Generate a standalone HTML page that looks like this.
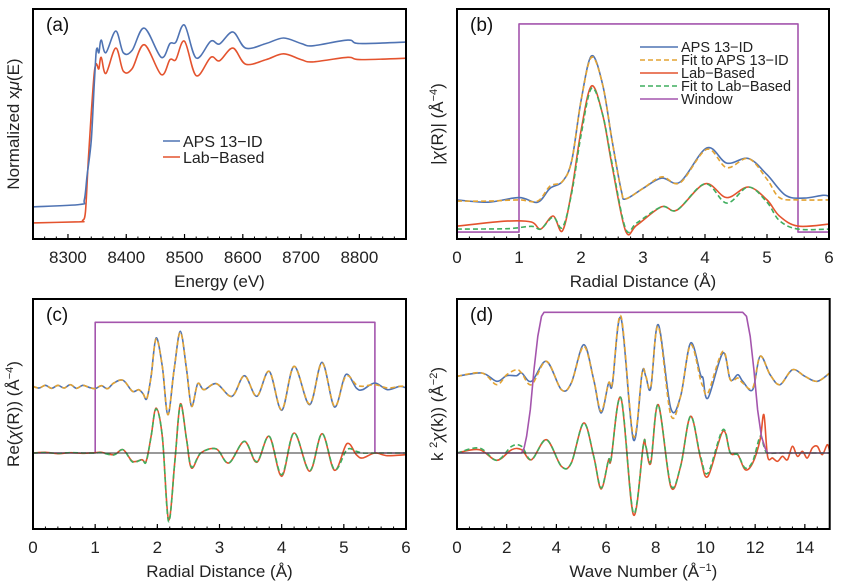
<!DOCTYPE html>
<html><head><meta charset="utf-8"><style>
body{margin:0;background:#fff;}
svg{display:block;font-family:"Liberation Sans",sans-serif;}
</style></head><body>
<svg id="fig" width="856" height="583" viewBox="0 0 856 583"></svg>
<script>
// ---- Panel (a) data ----
const aE_blue=[8240,8320,8328,8333,8340,8345,8348,8350,8353,8357,8365,8382,8395,8410,8431,8460,8475,8485,8500,8520,8545,8560,8583,8605,8640,8670,8700,8720,8780,8800,8880];
const aV_blue=[14,15,17,28,43,67,80,83,81,86.5,81,90.4,81,82,91.7,79,85,85.5,93,78.7,86,84.8,90,83,85,87.4,85,84,86.5,85,85.6];
const aE_red=[8240,8320,8325,8330,8335,8340,8345,8348,8350,8353,8357,8365,8382,8395,8410,8431,8460,8475,8485,8500,8520,8545,8560,8583,8605,8640,8670,8700,8720,8780,8800,8880];
const aV_red=[7,7.5,8,12,35,55,72,76,75.6,74,79,72,83,73,74,84.5,71.5,78,78,86,71,79,77.5,83,76,78,80.5,78,77,79,78,78.6];
// ---- Panel (b) data ----
const bR_aps=[0,0.5,1.0,1.3,1.5,1.7,1.85,2.0,2.17,2.35,2.5,2.65,2.72,3.0,3.3,3.6,4.03,4.35,4.7,5.0,5.3,5.6,5.9,6.0];
const bV_aps=[17,16,18,16,22,25,34,60,79.6,67,43,21,17.4,22,26.5,24.8,39.6,33,35,28,19,17.8,19,18.6];
const bR_apsfit=[0,0.5,1.0,1.3,1.5,1.7,1.85,2.0,2.17,2.35,2.5,2.65,2.72,3.0,3.3,3.6,4.03,4.35,4.7,5.0,5.2,5.5,6.0];
const bV_apsfit=[16.5,16.5,17,16.5,23,25,34,60,79,67,43,21,17.5,22,27,24.5,39,31,35,26,18,17,17];
const bR_lab=[0,0.8,1.2,1.35,1.55,1.7,1.85,2.0,2.17,2.35,2.5,2.72,2.9,3.3,3.55,4.0,4.35,4.7,5.0,5.2,5.5,6.0];
const bV_lab=[5.6,7.8,7.4,4.3,10,3.5,21,47,66.5,54,32,3.5,6,14,12.6,24,18,22.6,17,10,5.6,6.5];
const bR_labfit=[0,0.8,1.2,1.35,1.55,1.7,1.85,2.0,2.17,2.35,2.5,2.72,2.9,3.3,3.55,4.0,4.35,4.7,5.0,5.2,5.5,6.0];
const bV_labfit=[4.3,4.5,5.5,4.3,9.5,5,20,45,65.5,54,33,4.5,7,14,12.6,24,15.6,22.6,16,8,4.3,4.3];
const bR_win=[0,1,1,5.5,5.5,6];
const bV_win=[3,3,93.5,93.5,3,3];
// ---- Panel (c) data ----
const cR_aps=[0,0.1,0.2,0.3,0.4,0.5,0.6,0.7,0.8,0.9,1.0,1.1,1.2,1.3,1.45,1.6,1.7,1.77,1.83,1.9,1.98,2.08,2.17,2.27,2.37,2.47,2.55,2.65,2.75,2.95,3.2,3.4,3.6,3.8,4.0,4.2,4.45,4.65,4.85,5.03,5.2,5.3,5.5,5.7,5.9,6.0];
const cV_aps=[20,19.5,20.3,19.4,20.3,19.5,20.5,19.4,20.3,19.7,19.3,20.2,19.3,21,21.8,18.5,19,17.8,16.3,23,34.5,26,11.5,25,36.5,25,14,20.8,19,20.8,17,23.2,17,24.5,12.8,26,14.5,27.2,13.8,23.5,19.5,19,21,19,20,19.5];
const cV_apsfit=[20,19.5,20.3,19.4,20.3,19.5,20.5,19.4,20.3,19.7,19.3,20.2,19.3,21,21.8,18.5,19,17.8,16.3,23,34.2,26,11.5,25,36.2,25,14,20.8,19,20.8,17,23.2,17,24.5,13,26,14.7,27,14,23,20.5,20,20.5,19.5,20,20];
const cR_lab=[0,0.2,0.4,0.6,0.8,1.0,1.1,1.3,1.45,1.6,1.75,1.82,1.9,1.98,2.08,2.18,2.28,2.37,2.47,2.55,2.7,2.95,3.15,3.4,3.6,3.8,4.0,4.2,4.45,4.65,4.85,5.05,5.2,5.3,5.5,5.7,6.0];
const cV_lab=[0,0.2,-0.2,0.1,-0.1,0.1,0.2,-0.5,1,-2.5,-2,-2.5,5,13.5,5,-20,-3,14.7,4,-4.5,0,1.2,-3,3.5,-2.8,5,-7,6,-5.5,5.8,-5.2,2.8,-0.5,-1.5,0,-0.8,-0.5];
const cV_labfit=[0,0.1,-0.1,0.1,0,0,0.1,-0.6,1,-2.7,-2,-2.7,5,13.2,5,-20.5,-3,14.4,4,-4.2,0,1.2,-3,3.5,-2.6,5,-6.5,6,-5.3,5.8,-5,1,0.5,0,0,0,0];
const cR_win=[0,1,1,5.5,5.5,6];
const cV_win=[0,0,39.2,39.2,0,0];
// ---- Panel (d) data ----
const dK_aps=[0,1,1.6,2,2.4,2.6,3,3.6,4.2,4.6,5.1,5.5,5.8,6.1,6.25,6.6,7.1,7.45,7.6,7.8,8.1,8.6,9.0,9.4,9.8,9.9,10.1,10.7,11.0,11.3,11.5,11.9,12.2,12.6,13,13.5,14,14.5,15];
const dV_aps=[23,24,21.5,23.2,23.2,24,21.5,27.5,19,21,32.5,22,12,21,20.5,40.5,4,24,23,19.5,38.5,13.5,17,33,23.5,22.5,16.5,30,22,23.5,21.5,19,29,23.5,20.5,25,23,21.5,24];
const dV_apsfit=[23,24,20.5,23.5,25,24,20.5,27.5,19,21,32,22,12.5,21,21,41,5,24,23,20,38,11.5,17,32.5,22,20,18,30.5,22,22.5,21,19.5,29,23.5,20.5,25,23,21.5,24];
const dK_lab=[0,0.9,1.6,2.2,2.6,3.0,3.6,4.2,4.6,5.1,5.5,5.8,6.1,6.2,6.6,7.1,7.5,7.6,7.8,8.1,8.6,9.0,9.4,9.8,10.1,10.7,11.0,11.3,11.6,11.9,12.2,12.35,12.5,12.7,12.9,13.1,13.3,13.5,13.7,13.9,14.1,14.3,14.5,14.7,14.9,15];
const dV_lab=[0,1,-2.2,1,1,-2,4,-4,-3,9,-1,-10.8,-2,-2,16.5,-18.5,2.5,2,-3,14.5,-10,-4,11,-1.5,-7,6.5,0,-0.5,-5,-3,4,11.5,-1,-1.5,-2.5,-1,-2,2,-1,0.5,-1.5,1.5,2,-0.5,2.5,0.5];
const dK_labfit=[0,0.9,1.6,2.2,2.6,3.0,3.6,4.2,4.6,5.1,5.5,5.8,6.1,6.2,6.6,7.1,7.5,7.6,7.8,8.1,8.6,9.0,9.4,9.8,10.1,10.7,11.0,11.3,11.6,11.9,12.2,12.35,12.5,13,15];
const dV_labfit=[0,1.5,-2.2,2,2,-2,4,-4,-3,9,-1,-10.5,-2,-2,16.5,-18,2.5,2,-2.5,14.5,-9.5,-4,11,-1,-6,7,0,-0.5,-4.5,-2.5,5,2,0,0,0];
const dK_win=[0,2.6,2.7,2.8,2.95,3.1,3.25,3.4,3.5,11.5,11.65,11.8,11.95,12.1,12.25,12.4,12.5,15];
const dV_win=[0,0,1.5,5,13,25,35,41,42.2,42.2,41,35,25,13,5,1.5,0,0];

const C={blue:'#4f73b3',orange:'#e3a332',red:'#e4532e',green:'#3fae5e',purple:'#a455ad'};
const NS='http://www.w3.org/2000/svg';
const svg=document.getElementById('fig');
function mk(tag,attrs,parent){const e=document.createElementNS(NS,tag);for(const k in attrs)e.setAttribute(k,attrs[k]);(parent||svg).appendChild(e);return e;}

function smoothPath(pts){
  let d='M'+pts[0][0].toFixed(1)+','+pts[0][1].toFixed(1);
  for(let i=0;i<pts.length-1;i++){
    const p0=pts[Math.max(0,i-1)],p1=pts[i],p2=pts[i+1],p3=pts[Math.min(pts.length-1,i+2)];
    const c1=[p1[0]+(p2[0]-p0[0])/6,p1[1]+(p2[1]-p0[1])/6];
    const c2=[p2[0]-(p3[0]-p1[0])/6,p2[1]-(p3[1]-p1[1])/6];
    d+='C'+c1[0].toFixed(1)+','+c1[1].toFixed(1)+' '+c2[0].toFixed(1)+','+c2[1].toFixed(1)+' '+p2[0].toFixed(1)+','+p2[1].toFixed(1);
  }
  return d;
}
function makePanel(o){
  const g=mk('g',{});
  
  
  const X=v=>o.L+(v-o.xd[0])/(o.xd[1]-o.xd[0])*(o.R-o.L);
  const Y=v=>o.B-(v-o.yd[0])/(o.yd[1]-o.yd[0])*(o.B-o.T);
  const clip='clip-'+o.name;
  const cp=mk('clipPath',{id:clip},g);mk('rect',{x:o.L,y:o.T,width:o.R-o.L,height:o.B-o.T},cp);
  const plot=mk('g',{'clip-path':'url(#'+clip+')'},g);
  return {g,plot,X,Y,o};
}
function series(P,xs,ys,color,dash,name,smooth){
  const pts=xs.map((x,i)=>[P.X(x),P.Y(ys[i])]);
  const d=smooth?smoothPath(pts):'M'+pts.map(p=>p[0].toFixed(1)+','+p[1].toFixed(1)).join('L');
  const p=mk('path',{d:d,fill:'none',stroke:color,'stroke-width':1.6,'stroke-dasharray':dash||'none','stroke-linejoin':'round'},P.plot);
  
  
}
function frame(P,majors,minors,labels,xlabel,ylabel,tag){
  const o=P.o;
  if(o.zeroLine){const l=mk('line',{x1:o.L,x2:o.R,y1:P.Y(0),y2:P.Y(0),stroke:'#333','stroke-width':1},P.plot);
    
    }
  const f=mk('rect',{x:o.L,y:o.T,width:o.R-o.L,height:o.B-o.T,fill:'none',stroke:'#000','stroke-width':2},P.g);
  
  
  minors.forEach(v=>mk('line',{x1:P.X(v),x2:P.X(v),y1:o.B,y2:o.B-2.5,stroke:'#000','stroke-width':1},P.g));
  majors.forEach((v,i)=>{
    mk('line',{x1:P.X(v),x2:P.X(v),y1:o.B,y2:o.B-5,stroke:'#000','stroke-width':1.2},P.g);
    const t=mk('text',{x:P.X(v),y:o.B+24,'text-anchor':'middle','font-size':17,fill:'#222'},P.g);
    t.textContent=labels[i];
    
    
  });
  const xl=mk('text',{x:(o.L+o.R)/2,y:o.B+48,'text-anchor':'middle','font-size':17,fill:'#222'},P.g);
  xl.innerHTML=xlabel;
  
  
  const cy=(o.T+o.B)/2, cx=o.L-14;
  const yl=mk('text',{x:cx,y:cy,transform:'rotate(-90 '+cx+' '+cy+')','text-anchor':'middle','font-size':17,fill:'#222'},P.g);
  yl.innerHTML=ylabel;
  
  
  const pt=mk('text',{x:o.L+13,y:o.T+22,'font-size':19,fill:'#111'},P.g);
  pt.textContent=tag;
  
  
}
function rng(a,b,s){const r=[];for(let v=a;v<=b+1e-9;v+=s)r.push(+v.toFixed(4));return r;}
function legend(P,x,y,dy,items,fs,len){
  items.forEach((it,i)=>{
    const yy=y+i*dy;
    const l=mk('line',{x1:x,x2:x+len,y1:yy,y2:yy,stroke:it[1],'stroke-width':1.6,'stroke-dasharray':it[2]||'none'},P.g);
    
    
    const t=mk('text',{x:x+len+3,y:yy+fs*0.36,'font-size':fs,fill:'#222'},P.g);
    t.textContent=it[0];
    
    
  });
}
const SUP=s=>'<tspan baseline-shift="super" font-size="11">'+s+'</tspan>';

// Panel a
const A=makePanel({name:'panel-a-xanes',L:33,R:406,T:9,B:239,xd:[8240,8880],yd:[0,100]});
series(A,aE_red,aV_red,C.red,null,'lab-based-line',true);
series(A,aE_blue,aV_blue,C.blue,null,'aps-13-id-line',true);
frame(A,[8300,8400,8500,8600,8700,8800],rng(8240,8880,20),['8300','8400','8500','8600','8700','8800'],'Energy (eV)','Normalized x<tspan font-style="italic">μ</tspan>(E)','(a)');
legend(A,163,141,16,[['APS 13−ID',C.blue],['Lab−Based',C.red]],16,17);

// Panel b
const B=makePanel({name:'panel-b-magnitude',L:457,R:829,T:9,B:239,xd:[0,6],yd:[0,100]});
series(B,bR_win,bV_win,C.purple,null,'window-line',false);
series(B,bR_aps,bV_aps,C.blue,null,'aps-13-id-line',true);
series(B,bR_apsfit,bV_apsfit,C.orange,'5,3','fit-aps-line',true);
series(B,bR_lab,bV_lab,C.red,null,'lab-based-line',true);
series(B,bR_labfit,bV_labfit,C.green,'5,3','fit-lab-line',true);
frame(B,[0,1,2,3,4,5,6],rng(0,6,0.2),['0','1','2','3','4','5','6'],'Radial Distance (Å)','|<tspan font-style="italic">χ</tspan>(R)| (Å'+SUP('−4')+')','(b)');
legend(B,640,47,13,[['APS 13−ID',C.blue],['Fit to APS 13−ID',C.orange,'5,3'],['Lab−Based',C.red],['Fit to Lab−Based',C.green,'5,3'],['Window',C.purple]],14.5,38);

// Panel c
const Cp=makePanel({name:'panel-c-real-part',L:33,R:406,T:299,B:529,xd:[0,6],yd:[-22.8,46.2],zeroLine:true});
series(Cp,cR_win,cV_win,C.purple,null,'window-line',false);
series(Cp,cR_aps,cV_aps,C.blue,null,'aps-13-id-line',true);
series(Cp,cR_aps,cV_apsfit,C.orange,'5,3','fit-aps-line',true);
series(Cp,cR_lab,cV_lab,C.red,null,'lab-based-line',true);
series(Cp,cR_lab,cV_labfit,C.green,'5,3','fit-lab-line',true);
frame(Cp,[0,1,2,3,4,5,6],rng(0,6,0.2),['0','1','2','3','4','5','6'],'Radial Distance (Å)','Re(<tspan font-style="italic">χ</tspan>(R)) (Å'+SUP('−4')+')','(c)');

// Panel d
const D=makePanel({name:'panel-d-k-space',L:457,R:829.7,T:299,B:529,xd:[0,15],yd:[-22.8,46.2],zeroLine:true});
series(D,dK_aps,dV_aps,C.blue,null,'aps-13-id-line',true);
series(D,dK_aps,dV_apsfit,C.orange,'5,3','fit-aps-line',true);
series(D,dK_lab,dV_lab,C.red,null,'lab-based-line',true);
series(D,dK_labfit,dV_labfit,C.green,'5,3','fit-lab-line',true);
series(D,dK_win,dV_win,C.purple,null,'window-line',false);
frame(D,[0,2,4,6,8,10,12,14],rng(0,15,0.5),['0','2','4','6','8','10','12','14'],'Wave Number (Å'+SUP('−1')+')','k '+SUP('2')+'<tspan font-style="italic">χ</tspan>(k)) (Å'+SUP('−2')+')','(d)');
</script>
</body></html>
